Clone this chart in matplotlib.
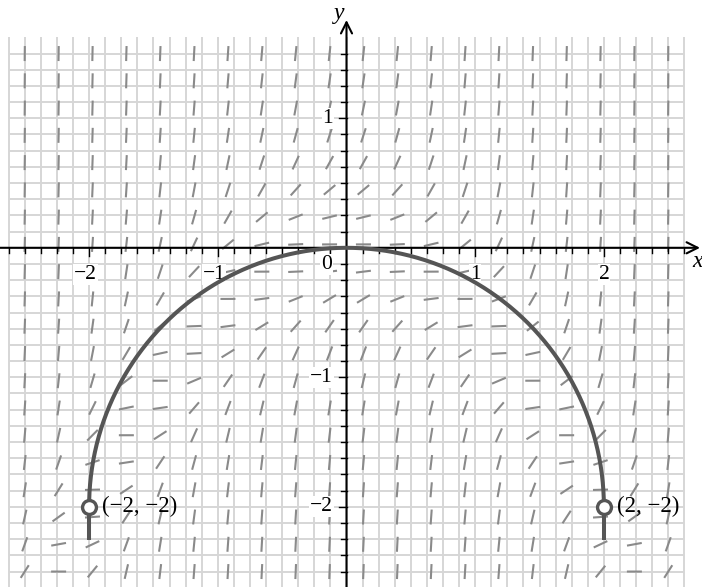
import numpy as np
import matplotlib.pyplot as plt
from matplotlib.collections import LineCollection

# direction field: 20 x 20 sample points, as in the plot
field_x = np.linspace(-2.5, 2.5, 20)
field_y = np.linspace(-2.5, 1.5, 20)


def slope(x, y):
    # dy/dx of the plotted field (even in x, zero along y = -x^2/2)
    return (x ** 2 + 2 * y) ** 2


# solution curve: upper half of circle centre (0, -2), radius 2
centre = (0.0, -2.0)
radius = 2.0
tail_end = -2.26
end_points_x = [-2, 2]
end_points_y = [-2, -2]
end_labels = ['(\u22122, \u22122)', '(2, \u22122)']

x_ticks = [-2, -1, 1, 2]
x_tick_labels = ['\u22122', '\u22121', '1', '2']
y_ticks = [1, -1, -2]
y_tick_labels = ['1', '\u22121', '\u22122']

# pixel layout of the picture
W, H = 702, 587
X0, Y0 = 346.5, 247.8   # origin in pixels
SX, SY = 128.7, 129.5   # pixels per unit

serif = 'Liberation Serif'
grid_col = '#d6d6d6'
seg_col = '#8a8a8a'
curve_col = '#555555'

fig = plt.figure(figsize=(W / 100, H / 100), dpi=100)
ax = fig.add_axes([0, 0, 1, 1])
ax.set_xlim(-X0 / SX, (W - X0) / SX)
ax.set_ylim(-(H - Y0) / SY, Y0 / SY)
ax.axis('off')

# background grid
gx = np.arange(-21, 22) * 0.125
gy = np.arange(-21, 13) * 0.125
ax.vlines(gx, -2.8, 1.625, color=grid_col, lw=1.4, zorder=1)
ax.hlines(gy, -2.625, 2.625, color=grid_col, lw=1.4, zorder=1)

# slope segments (fixed length on screen)
XX, YY = np.meshgrid(field_x, field_y)
m = slope(XX, YY)
ang = np.arctan(m * SY / SX)
half = 7.5
dx = half * np.cos(ang) / SX
dy = half * np.sin(ang) / SY
p0 = np.stack([XX - dx, YY - dy], axis=-1).reshape(-1, 2)
p1 = np.stack([XX + dx, YY + dy], axis=-1).reshape(-1, 2)
segs = np.stack([p0, p1], axis=1)
ax.add_collection(LineCollection(segs, colors=seg_col, linewidths=1.5, zorder=2))

# axes with arrows
x_tip = (700 - X0) / SX
y_tip = (Y0 - 20) / SY
xmin, xmax = ax.get_xlim()
ymin, ymax = ax.get_ylim()
arrow = dict(arrowstyle='->', lw=1.5, color='black', mutation_scale=20,
             shrinkA=0, shrinkB=0)
ax.annotate('', xy=(x_tip, 0), xytext=(xmin, 0), arrowprops=arrow, zorder=4)
ax.annotate('', xy=(0, y_tip), xytext=(0, ymin), arrowprops=arrow, zorder=4)

# small tick marks on both axes
for v in gx:
    if abs(v) < 1e-9:
        continue
    ln = 8 if abs(v - round(v)) < 1e-9 else 5
    ax.plot([v, v], [0, -ln / SY], color='black', lw=1.0, zorder=4)
for v in gy:
    if abs(v) < 1e-9:
        continue
    ln = 8 if abs(v - round(v)) < 1e-9 else 6
    ax.plot([0, -ln / SX], [v, v], color='black', lw=1.0, zorder=4)

box = dict(facecolor='white', edgecolor='none', pad=0.6)
for v, s in zip(x_ticks, x_tick_labels):
    off = -0.03 if v < 0 else 0
    ax.text(v + off, -27 / SY, s, ha='center', va='center', fontsize=15.5,
            family=serif, bbox=box, zorder=5)
for v, s in zip(y_ticks, y_tick_labels):
    ax.text(-13.5 / SX, v, s, ha='right', va='center', fontsize=15.5,
            family=serif, bbox=box, zorder=5)
ax.text(-20 / SX, -17 / SY, '0', ha='center', va='center', fontsize=15.5,
        family=serif, bbox=box, zorder=5)

ax.text(x_tip - 2 / SX, -14 / SY, 'x', ha='center', va='center', fontsize=17,
        family=serif, style='italic', zorder=5)
ax.text(-7 / SX, (Y0 - 14) / SY, 'y', ha='center', va='center', fontsize=17,
        family=serif, style='italic', zorder=5)

# solution curve
t = np.linspace(0, np.pi, 400)
ax.plot(centre[0] + radius * np.cos(t), centre[1] + radius * np.sin(t),
        color=curve_col, lw=2.9, zorder=6, solid_capstyle='butt')
for px, py in zip(end_points_x, end_points_y):
    ax.plot([px, px], [py, tail_end], color=curve_col, lw=2.9, zorder=6,
            solid_capstyle='butt')
ax.plot(end_points_x, end_points_y, 'o', ms=10, mfc='white', mec=curve_col,
        mew=2.4, zorder=7)

for px, py, s in zip(end_points_x, end_points_y, end_labels):
    ax.text(px + 13 / SX, py, s, ha='left', va='center', fontsize=16.5,
            family=serif, zorder=7)

fig.savefig('out.png', dpi=100)
